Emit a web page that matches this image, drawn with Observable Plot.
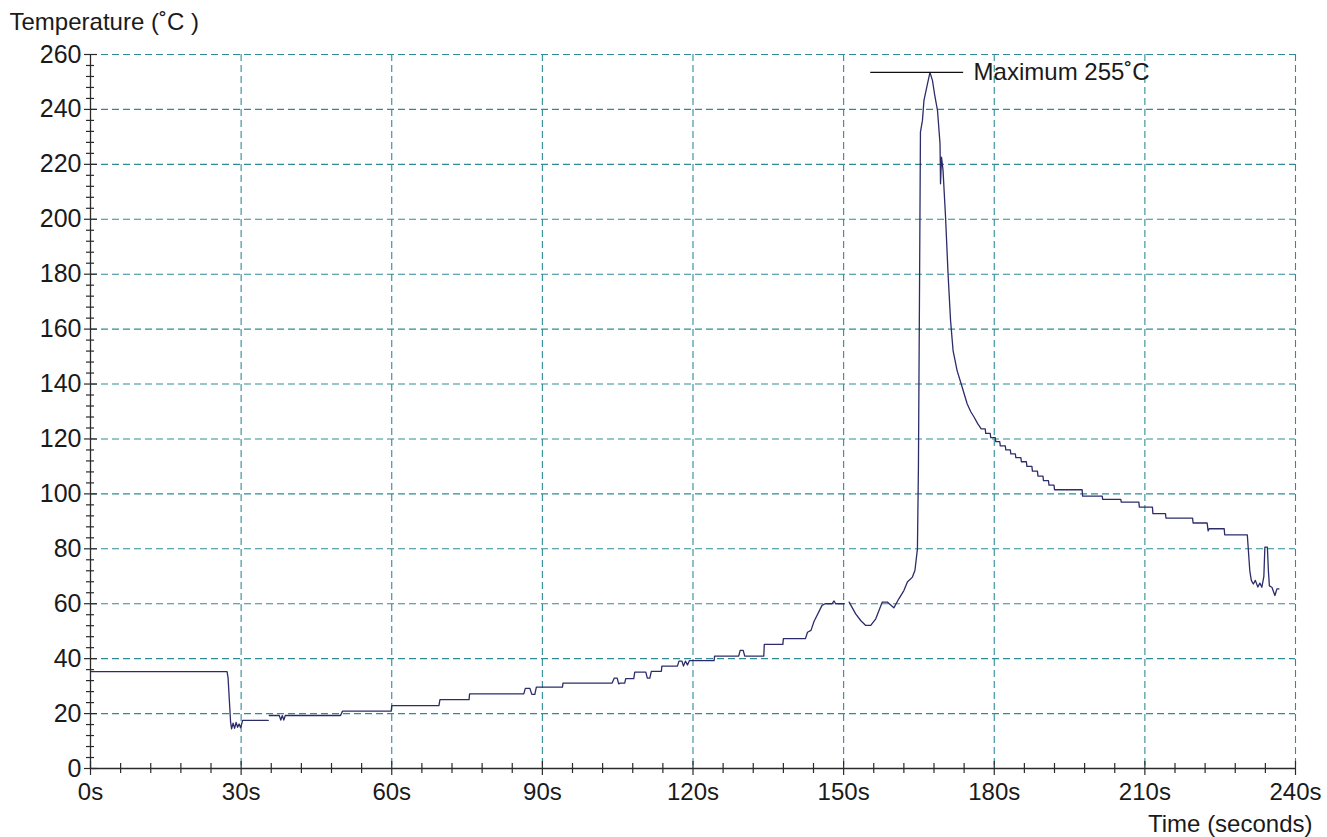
<!DOCTYPE html>
<html><head><meta charset="utf-8">
<script src="https://cdn.jsdelivr.net/npm/d3@7"></script>
<script src="https://cdn.jsdelivr.net/npm/@observablehq/plot@0.6"></script>
<style>html,body{margin:0;padding:0;background:#fff;overflow:hidden}</style>
</head><body><div id="chart"></div>
<script>
// time in seconds, temperature in °C (null = gap in the trace)
const time = [
0,27.2,27.4,27.9,28.1,28.4,28.7,29.0,29.3,29.6,29.9,30.3,35.4,35.5,35.6,37.6,37.9,38.2,38.5,38.8,
49.8,50.2,59.9,60.0,69.4,69.6,75.4,75.5,86.3,86.6,87.5,87.9,88.5,88.8,94.0,94.1,103.9,104.3,104.9,105.2,
105.5,106.4,106.6,108.2,108.4,110.6,110.9,111.4,111.7,113.7,113.8,116.9,117.2,117.8,118.1,118.5,118.9,119.3,124.2,124.3,
129.1,129.4,130.0,130.3,134.1,134.2,137.9,138.0,142.4,142.8,143.5,144.1,145.7,146.3,147.7,148.1,148.4,150.1,150.5,151.1,
152.4,153.4,154.4,155.4,156.4,157.7,158.7,160.0,161.0,162.0,162.7,163.7,164.2,164.7,164.9,165.1,165.3,165.7,166.0,166.7,
167.2,167.7,168.1,168.7,169.2,169.3,169.5,169.8,170.3,170.8,171.3,171.8,172.6,173.6,174.6,175.3,176.0,176.7,177.4,178.2,
178.3,179.2,179.3,180.2,180.3,181.1,181.2,182.2,182.3,183.2,183.3,184.2,184.3,185.3,185.4,186.4,186.5,187.5,187.6,188.6,
188.7,189.7,189.8,190.8,190.9,191.9,192.0,197.5,197.6,201.5,201.6,205.2,205.3,208.8,208.9,211.5,211.6,214.1,214.2,219.5,
219.6,222.4,222.6,222.8,225.8,225.9,230.4,230.9,231.2,231.6,232.0,232.5,232.9,233.3,233.7,233.9,234.4,234.6,234.8,235.3,
235.9,236.3,236.7
];
const temp = [
35.3,35.3,33,17,14.4,16.5,14.6,16.8,15.0,16.2,14.8,17.5,17.5,null,19.3,19.3,17.6,19.3,17.6,19.3,
19.3,20.9,20.9,22.9,22.9,25.1,25.1,27.2,27.2,29.2,29.2,27.0,27.0,29.6,29.6,31.1,31.1,32.9,32.9,30.8,
31.1,31.1,32.7,32.7,35.1,35.1,32.9,32.9,35.4,35.4,37.3,37.3,39.1,39.1,37.3,39.1,37.7,39.3,39.3,40.9,
40.9,43.0,43.0,40.9,40.9,45.2,45.2,47.3,47.3,49.6,50.3,53.5,59.4,60.0,60.0,61.0,60.0,60.0,null,60.6,
56.3,53.9,52.1,52.1,54.5,60.6,60.6,58.5,61.8,64.8,67.9,69.7,72.1,80,110,170,231.7,236,243.3,249.3,
253.5,250.5,245.7,239.6,227.5,212.9,222.6,217.8,200.8,180.1,163.1,152.2,144.9,138.9,132.8,130.0,127.9,125.6,123.7,123.7,
122.0,122.0,120.5,120.5,119.0,119.0,117.5,117.5,116.0,116.0,114.6,114.6,113.2,113.2,111.7,111.7,110.0,110.0,108.3,108.3,
106.5,106.5,104.8,104.8,103.2,103.2,101.5,101.5,99.2,99.2,98.0,98.0,97.0,97.0,95.2,95.2,92.8,92.8,91.2,91.2,
89.4,89.4,86.5,87.3,87.3,85.1,85.1,72,68.5,67.2,68.5,66.1,67.5,66.0,70,80.6,80.6,72,66.5,66,
63.0,65.4,65.4
];

const xMajor = [0, 30, 60, 90, 120, 150, 180, 210, 240];
const xMinor = [6,12,18,24,36,42,48,54,66,72,78,84,96,102,108,114,126,132,138,144,156,162,168,174,186,192,198,204,216,222,228,234];
const yMajor = [0, 20, 40, 60, 80, 100, 120, 140, 160, 180, 200, 220, 240, 260];
const yMinor = [4,8,12,16,24,28,32,36,44,48,52,56,64,68,72,76,84,88,92,96,104,108,112,116,124,128,132,136,144,148,152,156,164,168,172,176,184,188,192,196,204,208,212,216,224,228,232,236,244,248,252,256];

const yTitle = "Temperature (˚C )";
const xTitle = "Time (seconds)";
const maxLabel = "Maximum 255˚C";
const maxLineStart = 155.4, maxLineEnd = 173.9;

const W = 1327, H = 837;
const mL = 90, mR = 32, mT = 54, mB = 69;
const plotW = W - mL - mR, plotH = H - mT - mB;

const rows = time.map((t, i) => ({t, v: temp[i]}));
const peak = d3.max(temp);
const gridColor = "#2f8c96";
const axisColor = "#2a2a2a";

const chart = Plot.plot({
  width: W, height: H,
  marginLeft: mL, marginRight: mR, marginTop: mT, marginBottom: mB,
  style: {fontFamily: "'Liberation Sans', Arial, sans-serif", color: "#1a1a1a", background: "#fff"},
  x: {domain: [0, 240]},
  y: {domain: [0, 260]},
  marks: [
    Plot.ruleX(xMajor.slice(1), {stroke: gridColor, strokeDasharray: "7,4", strokeWidth: 1.1}),
    Plot.ruleY(yMajor.slice(1), {stroke: gridColor, strokeDasharray: "7,4", strokeWidth: 1.1}),
    Plot.ruleX([0], {stroke: axisColor, strokeWidth: 1.3}),
    Plot.ruleY([0], {stroke: axisColor, strokeWidth: 1.3}),
    Plot.tickY(yMinor, {insetLeft: -4, insetRight: plotW - 4, stroke: axisColor, strokeWidth: 1.2}),
    Plot.tickY(yMajor, {insetLeft: -6, insetRight: plotW - 7, stroke: axisColor, strokeWidth: 1.2}),
    Plot.tickX(xMinor, {insetTop: plotH - 5, insetBottom: -5, stroke: axisColor, strokeWidth: 1.2}),
    Plot.tickX(xMajor, {insetTop: plotH - 7, insetBottom: -7, stroke: axisColor, strokeWidth: 1.2}),
    Plot.axisY({ticks: yMajor, tickSize: 0, tickPadding: 9, fontSize: 25, label: null, tickFormat: d => String(d)}),
    Plot.axisX({ticks: xMajor, tickSize: 0, tickPadding: 14, fontSize: 24, label: null, tickFormat: d => d + "s"}),
    Plot.line(rows, {x: "t", y: "v", stroke: "#2c2c6a", strokeWidth: 1.3}),
    Plot.ruleY([peak], {x1: maxLineStart, x2: maxLineEnd, stroke: "#111", strokeWidth: 1.3}),
    Plot.text([maxLabel], {x: maxLineEnd, y: peak, text: d => d, dx: 10, textAnchor: "start", lineAnchor: "middle", fontSize: 24, fill: "#1a1a1a"}),
    Plot.text([yTitle], {frameAnchor: "top-left", text: d => d, textAnchor: "start", lineAnchor: "middle", dx: -81, dy: -32, fontSize: 24, fill: "#1a1a1a"}),
    Plot.text([xTitle], {frameAnchor: "bottom-right", text: d => d, textAnchor: "end", lineAnchor: "middle", dx: 17, dy: 56, fontSize: 24, fill: "#1a1a1a"})
  ]
});
document.getElementById("chart").appendChild(chart);
</script>
</body></html>
